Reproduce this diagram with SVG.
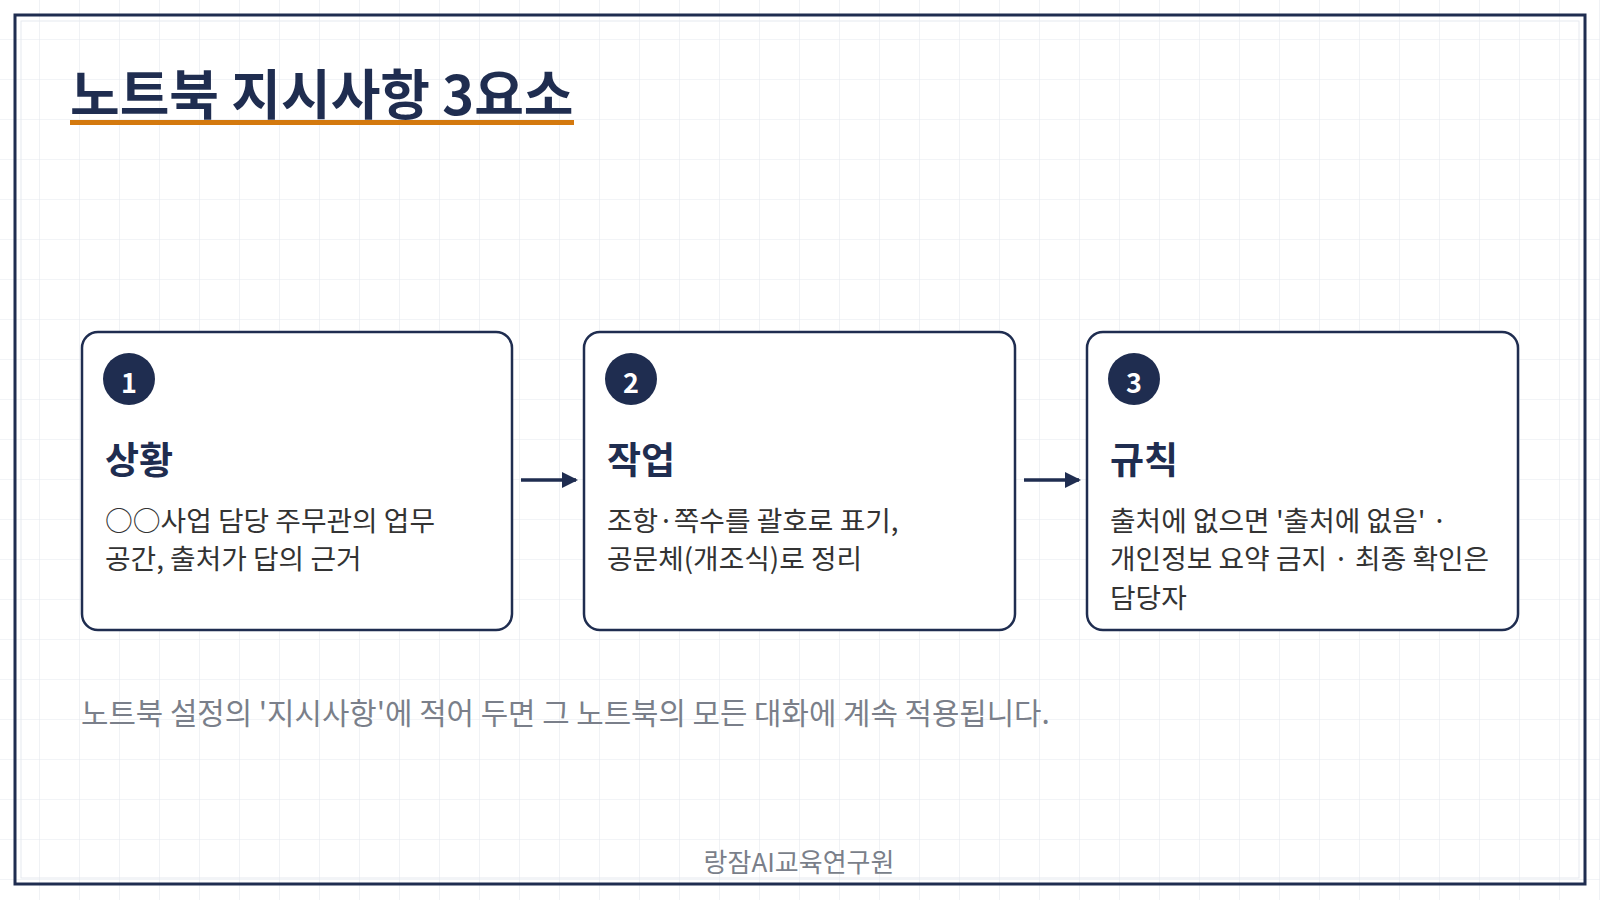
<svg xmlns="http://www.w3.org/2000/svg" width="1600" height="900" viewBox="0 0 1600 900">
<defs>
<pattern id="grid" width="40" height="40" patternUnits="userSpaceOnUse"><path d="M40 0V40H0" fill="none" stroke="#e6e9ef" stroke-width="1.2"/></pattern>
<marker id="ah" markerWidth="16" markerHeight="16" refX="14" refY="8" orient="auto" markerUnits="userSpaceOnUse" viewBox="0 0 16 16"><path d="M0 0L16 8L0 16z" fill="#1f2d50"/></marker>
</defs>
<style>
text{font-family:"Noto Sans CJK KR","Noto Sans",sans-serif}
.card{fill:#fff;stroke:#1f2d50;stroke-width:2.5}
.num{fill:#fff;font-size:27px;font-weight:700;text-anchor:middle}
.h{fill:#1f2d50;font-size:37px;font-weight:700}
.b{fill:#333;font-size:27.8px}
</style>
<rect width="1600" height="900" fill="#fff"/>
<rect width="1600" height="900" fill="url(#grid)"/>
<rect x="15" y="15" width="1570" height="869" fill="none" stroke="#1f2d50" stroke-width="3"/>
<rect x="21" y="21" width="1558" height="857" fill="none" stroke="#e6e9ef" stroke-width="1"/>
<g id="title">
<text x="70" y="115" fill="#1f2d50" font-size="54" font-weight="700">노트북 지시사항 3요소</text>
<rect x="70" y="120" width="504" height="5" fill="#d4790e"/>
</g>
<g id="node1">
<rect class="card" x="82" y="332" width="430" height="298" rx="16"/>
<circle cx="129" cy="379" r="26" fill="#1f2d50"/><text class="num" x="129" y="393">1</text>
<text class="h" x="105" y="474">상황</text>
<text class="b" x="105" y="531">○○사업 담당 주무관의 업무</text>
<text class="b" x="105" y="569">공간, 출처가 답의 근거</text>
</g>
<g id="node2">
<rect class="card" x="584" y="332" width="431" height="298" rx="16"/>
<circle cx="631" cy="379" r="26" fill="#1f2d50"/><text class="num" x="631" y="393">2</text>
<text class="h" x="607" y="474">작업</text>
<text class="b" x="607" y="531">조항·쪽수를 괄호로 표기,</text>
<text class="b" x="607" y="569">공문체(개조식)로 정리</text>
</g>
<g id="node3">
<rect class="card" x="1087" y="332" width="431" height="298" rx="16"/>
<circle cx="1134" cy="379" r="26" fill="#1f2d50"/><text class="num" x="1134" y="393">3</text>
<text class="h" x="1110" y="474">규칙</text>
<text class="b" x="1110" y="531">출처에 없으면 '출처에 없음' ·</text>
<text class="b" x="1110" y="569">개인정보 요약 금지 · 최종 확인은</text>
<text class="b" x="1110" y="608">담당자</text>
</g>
<g id="connectors" stroke="#1f2d50" stroke-width="3.5" fill="none">
<line x1="521" y1="480" x2="576" y2="480" marker-end="url(#ah)"/>
<line x1="1024" y1="480" x2="1079" y2="480" marker-end="url(#ah)"/>
</g>
<text x="81" y="724" fill="#7a7f8a" font-size="29.8">노트북 설정의 '지시사항'에 적어 두면 그 노트북의 모든 대화에 계속 적용됩니다.</text>
<text x="799" y="872" fill="#7a7f8a" font-size="26" text-anchor="middle">랑잠AI교육연구원</text>
</svg>
